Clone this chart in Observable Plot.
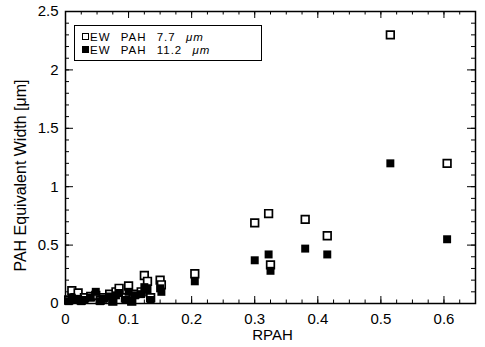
<!DOCTYPE html>
<html>
<head>
<meta charset="utf-8">
<script src="https://cdn.jsdelivr.net/npm/d3@7"></script>
<script src="https://cdn.jsdelivr.net/npm/@observablehq/plot@0.6"></script>
<style>
  html, body { margin: 0; padding: 0; background: #fff; }
  #wrap { position: relative; width: 485px; height: 347px; font-family: "Liberation Sans", Arial, Helvetica, sans-serif; }
  #legend { position: absolute; left: 74px; top: 25px; width: 188px; height: 36px; border: 1px solid #000; background: #fff; box-sizing: border-box; }
  .row { position: absolute; left: 0; display: flex; align-items: center; height: 12.5px; font-size: 11.5px; line-height: 12.5px; letter-spacing: 1px; word-spacing: 6px; color: #000; white-space: nowrap; }
  .sq { width: 7px; height: 7px; margin-left: 7px; margin-right: 1px; box-sizing: border-box; flex: none; }
  .open { border: 1.6px solid #000; background: #fff; }
  .fill { background: #000; }
</style>
</head>
<body>
<div id="wrap"></div>
<script>
// RPAH values (x) shared by both series
const rpah = [0.005, 0.01, 0.015, 0.02, 0.025, 0.03, 0.04, 0.048, 0.055, 0.06, 0.07, 0.075, 0.08, 0.085, 0.095, 0.10, 0.105, 0.11, 0.12, 0.125, 0.13, 0.135, 0.15, 0.152, 0.205, 0.30, 0.322, 0.325, 0.38, 0.415, 0.515, 0.605];
// EW PAH 7.7 micron
const ew77 = [0.03, 0.11, 0.05, 0.09, 0.03, 0.05, 0.06, 0.07, 0.03, 0.05, 0.08, 0.02, 0.10, 0.13, 0.05, 0.15, 0.02, 0.08, 0.10, 0.24, 0.19, 0.05, 0.20, 0.16, 0.255, 0.69, 0.77, 0.33, 0.72, 0.58, 2.30, 1.20];
// EW PAH 11.2 micron
const ew112 = [0.02, 0.05, 0.03, 0.04, 0.02, 0.03, 0.05, 0.10, 0.02, 0.04, 0.06, 0.02, 0.07, 0.09, 0.03, 0.10, 0.02, 0.07, 0.08, 0.14, 0.12, 0.03, 0.13, 0.10, 0.19, 0.37, 0.42, 0.28, 0.47, 0.42, 1.20, 0.55];

const xMajor = [0, 0.1, 0.2, 0.3, 0.4, 0.5, 0.6];
const xMinor = d3.range(0, 26).map(i => i * 0.025);
const yMajor = [0, 0.5, 1, 1.5, 2, 2.5];
const yMinor = d3.range(0, 26).map(i => i / 10);
const xTitle = "RPAH";
const yTitle = "PAH Equivalent Width [μm]";
const legendLabels = ["EW PAH 7.7", "EW PAH 11.2"];

const rows = rpah.map((x, i) => ({x, a: ew77[i], b: ew112[i]}));

const W = 485, H = 347, mt = 11, mb = 44, ml = 65, mr = 10;
const ph = H - mt - mb, pw = W - ml - mr;

const plot = Plot.plot({
  width: W, height: H,
  marginLeft: ml, marginRight: mr, marginTop: mt, marginBottom: mb,
  style: {fontFamily: '"Liberation Sans", Arial, Helvetica, sans-serif', fontSize: "15px", color: "#000", background: "#fff"},
  x: {domain: [0, 0.65], label: null},
  y: {domain: [0, 2.5], label: null},
  marks: [
    Plot.axisX(xMajor, {tickSize: 0, tickPadding: 10, fontSize: 15, tickFormat: d => d === 0 ? "0" : d3.format(".1f")(d), fill: "#000"}),
    Plot.axisY(yMajor, {tickSize: 0, tickPadding: 7, fontSize: 15, tickFormat: d => String(d), fill: "#000"}),
    // inward ticks, all four sides
    Plot.tickX(xMajor, {x: d => d, insetTop: ph - 7, stroke: "#000", strokeWidth: 1}),
    Plot.tickX(xMajor, {x: d => d, insetBottom: ph - 7, stroke: "#000", strokeWidth: 1}),
    Plot.tickX(xMinor, {x: d => d, insetTop: ph - 3.5, stroke: "#000", strokeWidth: 1}),
    Plot.tickX(xMinor, {x: d => d, insetBottom: ph - 3.5, stroke: "#000", strokeWidth: 1}),
    Plot.tickY(yMajor, {y: d => d, insetRight: pw - 8, stroke: "#000", strokeWidth: 1}),
    Plot.tickY(yMajor, {y: d => d, insetLeft: pw - 8, stroke: "#000", strokeWidth: 1}),
    Plot.tickY(yMinor, {y: d => d, insetRight: pw - 4, stroke: "#000", strokeWidth: 1}),
    Plot.tickY(yMinor, {y: d => d, insetLeft: pw - 4, stroke: "#000", strokeWidth: 1}),
    Plot.frame({stroke: "#000", strokeWidth: 1.5}),
    Plot.dot(rows, {x: "x", y: "a", symbol: "square", r: 4.3, fill: "#fff", stroke: "#000", strokeWidth: 1.7}),
    Plot.dot(rows, {x: "x", y: "b", symbol: "square", r: 4.5, fill: "#000", stroke: "none"}),
    Plot.text([xTitle], {frameAnchor: "bottom", dx: 2, dy: 36, text: d => d, fontSize: 15, fill: "#000"}),
    Plot.text([yTitle], {frameAnchor: "left", textAnchor: "middle", dx: -45, dy: 18, rotate: -90, text: d => d, fontSize: 16, fill: "#000"})
  ]
});

const wrap = document.getElementById("wrap");
wrap.appendChild(plot);
const leg = document.createElement("div");
leg.id = "legend";
leg.innerHTML = `<div class="row" style="top:4.5px"><span class="sq open"></span>${legendLabels[0]} <i>&nbsp;μm</i></div>
<div class="row" style="top:17.5px"><span class="sq fill"></span>${legendLabels[1]} <i>&nbsp;μm</i></div>`;
wrap.appendChild(leg);
</script>
</body>
</html>
